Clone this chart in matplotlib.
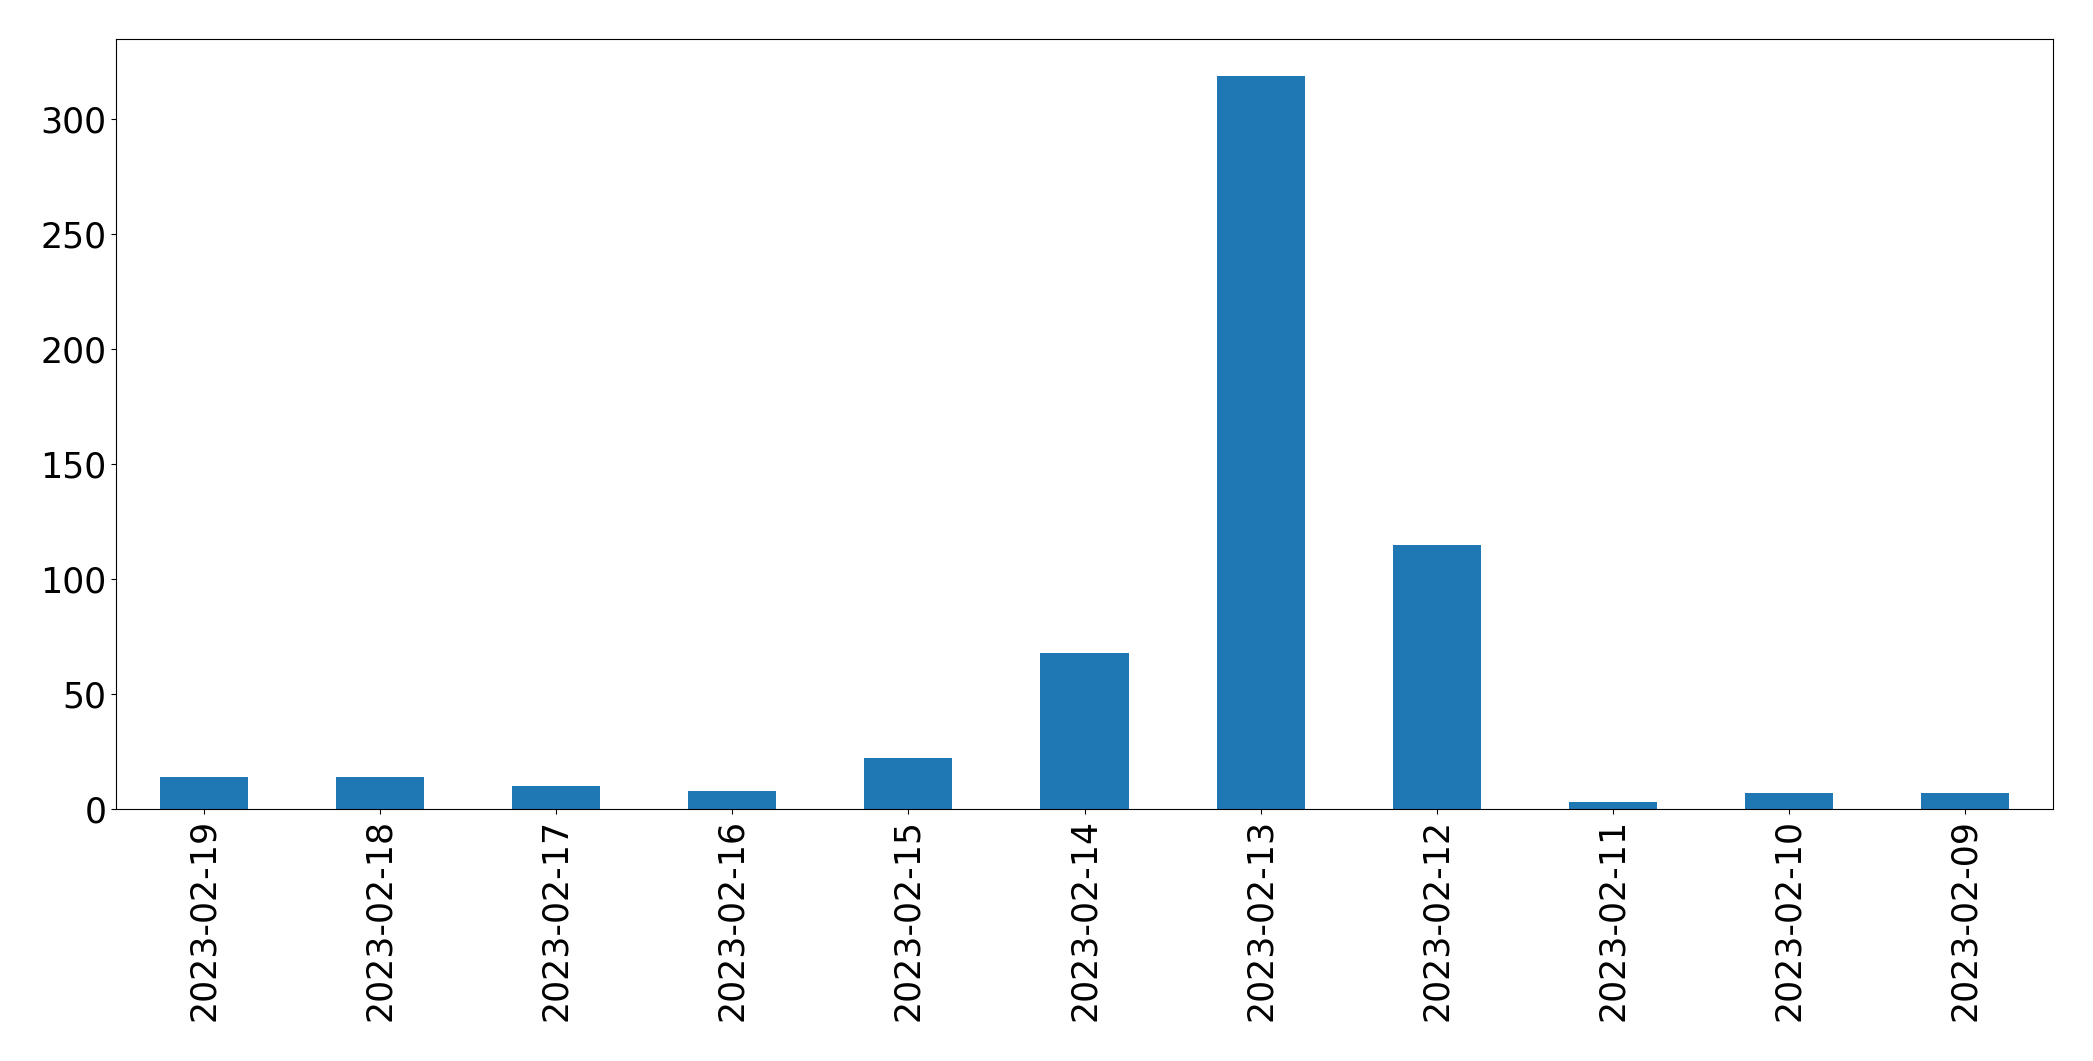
import matplotlib
matplotlib.use("Agg")
import matplotlib.pyplot as plt
import numpy as np

dates = ["2023-02-19", "2023-02-18", "2023-02-17", "2023-02-16", "2023-02-15",
         "2023-02-14", "2023-02-13", "2023-02-12", "2023-02-11", "2023-02-10",
         "2023-02-09"]
counts = [14, 14, 10, 8, 22, 68, 319, 115, 3, 7, 7]

fig = plt.figure(figsize=(20.93, 10.61), dpi=100)
ax = fig.add_axes([116/2093, 1 - 809/1061, (2053-116)/2093, (809-39)/1061])
x = np.arange(len(dates))
ax.bar(x, counts, width=0.5, color="#1f77b4")
ax.set_xlim(-0.5, len(dates) - 0.5)
ax.set_ylim(0, max(counts) * 1.05)
ax.set_xticks(x)
ax.set_xticklabels(dates, rotation=90)
ax.tick_params(axis="both", labelsize=25)
fig.savefig("out.png", dpi=100)
